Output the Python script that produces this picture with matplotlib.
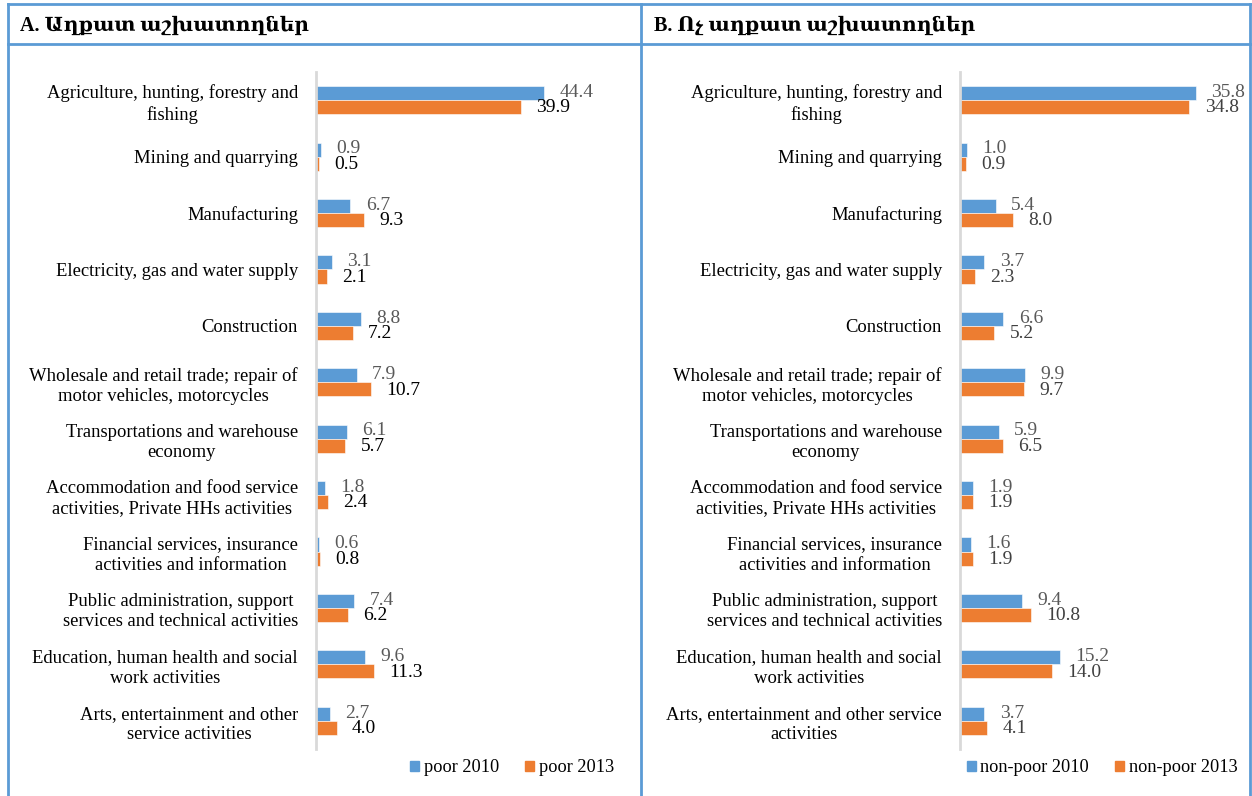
import numpy as np
import matplotlib
matplotlib.use("Agg")
import matplotlib.pyplot as plt
from matplotlib.patches import Patch
from matplotlib.lines import Line2D

plt.rcParams['font.family'] = ['Liberation Serif', 'DejaVu Serif']

# categories (left panel wrapping)
cats_a = ["Agriculture, hunting, forestry and\nfishing",
          "Mining and quarrying",
          "Manufacturing",
          "Electricity, gas and water supply",
          "Construction",
          "Wholesale and retail trade; repair of\nmotor vehicles, motorcycles",
          "Transportations and warehouse\neconomy",
          "Accommodation and food service\nactivities, Private HHs activities",
          "Financial services, insurance\nactivities and information",
          "Public administration, support\nservices and technical activities",
          "Education, human health and social\nwork activities",
          "Arts, entertainment and other\nservice activities"]
cats_b = cats_a[:-1] + ["Arts, entertainment and other service\nactivities"]

poor_2010 = [44.4, 0.9, 6.7, 3.1, 8.8, 7.9, 6.1, 1.8, 0.6, 7.4, 9.6, 2.7]
poor_2013 = [39.9, 0.5, 9.3, 2.1, 7.2, 10.7, 5.7, 2.4, 0.8, 6.2, 11.3, 4.0]
nonpoor_2010 = [35.8, 1.0, 5.4, 3.7, 6.6, 9.9, 5.9, 1.9, 1.6, 9.4, 15.2, 3.7]
nonpoor_2013 = [34.8, 0.9, 8.0, 2.3, 5.2, 9.7, 6.5, 1.9, 1.9, 10.8, 14.0, 4.1]

title_a = "A. Աղքատ աշխատողներ"
title_b = "B. Ոչ աղքատ աշխատողներ"
legend_a = ["poor 2010", "poor 2013"]
legend_b = ["non-poor 2010", "non-poor 2013"]

BLUE = "#5b9bd5"
ORANGE = "#ed7d31"
FRAME = "#5b9bd5"

W, H = 1252, 796
fig = plt.figure(figsize=(W / 100, H / 100), dpi=100)


def fx(px):
    return px / W


def fy(py):
    return 1 - py / H


def panel(x0, x1, cats, s1, s2, xmax, lab2_color, names, leg_cx):
    ax = fig.add_axes([fx(x0), fy(749), fx(x1 - x0), fy(72) - fy(749)])
    y = np.arange(len(cats))
    h = 0.25
    ax.barh(y - h / 2, s1, height=h, color=BLUE, edgecolor="white", linewidth=0.4)
    ax.barh(y + h / 2, s2, height=h, color=ORANGE, edgecolor="white", linewidth=0.4)
    for yi, v in zip(y, s1):
        ax.annotate(f"{v:.1f}", (v, yi - h / 2), xytext=(11, 0.5), textcoords="offset points",
                    ha="left", va="center", fontsize=14, color="#595959")
    for yi, v in zip(y, s2):
        ax.annotate(f"{v:.1f}", (v, yi + h / 2), xytext=(11, -0.5), textcoords="offset points",
                    ha="left", va="center", fontsize=14, color=lab2_color)
    ax.set_xlim(0, xmax)
    ax.set_ylim(len(cats) - 0.5, -0.5)
    ax.set_yticks(y)
    ax.set_yticklabels(cats, fontsize=13.4, multialignment="center", linespacing=1.25)
    ax.tick_params(axis="y", length=0, pad=13)
    ax.set_xticks([])
    for s in ["top", "right", "bottom"]:
        ax.spines[s].set_visible(False)
    ax.spines["left"].set_color("#d9d9d9")
    ax.spines["left"].set_linewidth(2)
    handles = [Patch(color=BLUE, label=names[0]), Patch(color=ORANGE, label=names[1])]
    fig.legend(handles=handles, loc="center", bbox_to_anchor=(fx(leg_cx), fy(768)),
               ncol=2, frameon=False, fontsize=13.2, handlelength=0.5, handleheight=0.5,
               handletextpad=0.25, columnspacing=1.4)
    return ax


panel(316, 600, cats_a, poor_2010, poor_2013, (600 - 316) / 5.135, "#000000", legend_a, 512)
panel(960, 1240, cats_b, nonpoor_2010, nonpoor_2013, (1240 - 960) / 6.59, "#404040", legend_b, 1102)

# frame lines
lw = 2
for xs, ys in [([8, 1250], [4, 4]), ([8, 1250], [44, 44]),
               ([8, 8], [4, 796]), ([641, 641], [4, 796]), ([1250, 1250], [4, 796])]:
    fig.add_artist(Line2D([fx(xs[0]), fx(xs[1])], [fy(ys[0]), fy(ys[1])],
                          color=FRAME, linewidth=lw, transform=fig.transFigure))

fig.text(fx(20), fy(26), title_a, fontsize=14.5, fontweight="bold", ha="left", va="center")
fig.text(fx(654), fy(26), title_b, fontsize=14.5, fontweight="bold", ha="left", va="center")

fig.savefig("out.png", dpi=100)
